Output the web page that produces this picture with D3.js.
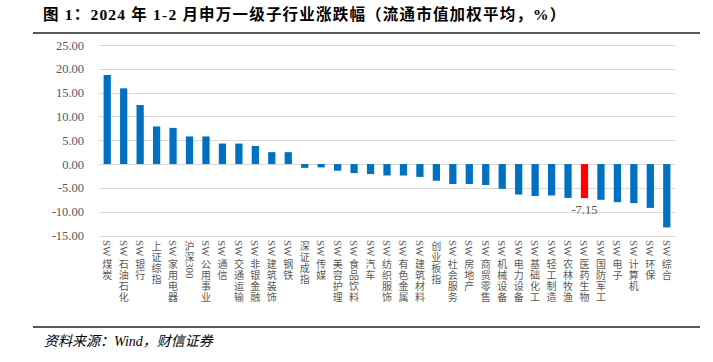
<!DOCTYPE html>
<html>
<head>
<meta charset="utf-8">
<script src="https://cdn.jsdelivr.net/npm/d3@7"></script>
<style>
  body { margin: 0; background: #fff; }
  svg { display: block; }
  .serif { font-family: "Liberation Serif", "Times New Roman", "Noto Sans CJK SC", serif; }
</style>
</head>
<body>
<div id="chart"></div>
<script>
// Industry names, in the order of the bars
const industries = [
    "SW煤炭", "SW石油石化", "SW银行", "上证综指", "SW家用电器", "沪深300", "SW公用事业",
    "SW通信", "SW交通运输", "SW非银金融", "SW建筑装饰", "SW钢铁", "深证成指", "SW传媒",
    "SW美容护理", "SW食品饮料", "SW汽车", "SW纺织服饰", "SW有色金属", "SW建筑材料", "创业板指",
    "SW社会服务", "SW房地产", "SW商贸零售", "SW机械设备", "SW电力设备", "SW基础化工", "SW轻工制造",
    "SW农林牧渔", "SW医药生物", "SW国防军工", "SW电子", "SW计算机", "SW环保", "SW综合"
];

// Change in Jan-Feb 2024 (%)
const changes = [
    18.7, 15.9, 12.4, 7.9, 7.6, 5.8, 5.8,
    4.3, 4.3, 3.8, 2.5, 2.5, -0.8, -0.7,
    -1.4, -1.9, -2.1, -2.4, -2.4, -2.7, -3.5,
    -4.2, -4.2, -4.4, -5.2, -6.4, -6.7, -6.6,
    -7.1, -7.15, -7.5, -8.0, -8.2, -9.2, -13.3
];

// Highlighted bar and its label
const highlighted = "SW医药生物";

// Y axis ticks
const yTicks = [-15, -10, -5, 0, 5, 10, 15, 20, 25];

const W = 713, H = 362;
const plot = { left: 99, right: 675, top: 45, bottom: 235.5 };

const data = industries.map((name, i) => ({ name: name, value: changes[i] }));

const svg = d3.select("#chart")
    .append("svg")
    .attr("width", W)
    .attr("height", H);

// Title
svg.append("text")
    .attr("class", "serif")
    .attr("x", 43)
    .attr("y", 20)
    .style("font-size", "15.5px")
    .style("font-weight", "bold")
    .style("letter-spacing", "1.2px")
    .style("fill", "#000")
    .text("图 1：2024 年 1-2 月申万一级子行业涨跌幅（流通市值加权平均，%）");

// Top and bottom rules
svg.append("line")
    .attr("x1", 33).attr("x2", 700)
    .attr("y1", 33).attr("y2", 33)
    .style("stroke", "#222")
    .style("stroke-width", 1.5);

svg.append("line")
    .attr("x1", 33).attr("x2", 700)
    .attr("y1", 327).attr("y2", 327)
    .style("stroke", "#222")
    .style("stroke-width", 1.5);

// Scales
const x = d3.scaleBand()
    .domain(industries)
    .range([plot.left, plot.right])
    .paddingInner(0.56)
    .paddingOuter(0.28);

const y = d3.scaleLinear()
    .domain([-15, 25])
    .range([plot.bottom, plot.top]);

// Grid lines
svg.append("g")
    .attr("class", "grid")
    .selectAll("line")
    .data(yTicks)
    .enter().append("line")
    .attr("x1", plot.left)
    .attr("x2", plot.right)
    .attr("y1", d => Math.round(y(d)) + 0.5)
    .attr("y2", d => Math.round(y(d)) + 0.5)
    .style("stroke", "#d9d9d9")
    .style("stroke-width", 1);

// Y axis labels
const yAxis = svg.append("g")
    .attr("class", "axis y-axis serif")
    .attr("transform", `translate(${plot.left - 8},0)`)
    .call(d3.axisLeft(y)
        .tickValues(yTicks)
        .tickSize(0)
        .tickPadding(7)
        .tickFormat(d => d.toFixed(2))
    );

yAxis.select(".domain").remove();
yAxis.selectAll("text")
    .style("font-family", "\"Liberation Serif\", \"Times New Roman\", serif")
    .style("font-size", "12.5px")
    .style("fill", "#595959");

// Bars
svg.selectAll(".bar")
    .data(data)
    .enter().append("rect")
    .attr("class", "bar")
    .attr("x", d => x(d.name))
    .attr("width", x.bandwidth())
    .attr("y", d => y(Math.max(0, d.value)))
    .attr("height", d => Math.abs(y(d.value) - y(0)))
    .style("fill", d => d.name === highlighted ? "#ff0000" : "#0070c0");

// Value label for the highlighted bar
const hi = data.find(d => d.name === highlighted);
svg.append("text")
    .attr("class", "serif")
    .attr("x", x(hi.name) + x.bandwidth() / 2)
    .attr("y", y(hi.value) + 16)
    .attr("text-anchor", "middle")
    .style("font-size", "12.5px")
    .style("fill", "#595959")
    .text(hi.value.toFixed(2));

// Category labels, stacked vertically: Chinese characters upright,
// Latin letters and digits turned sideways
const labelTop = 240;
const cjkStep = 11;

const labels = svg.append("g").attr("class", "x-labels");

industries.forEach(name => {
    const cx = x(name) + x.bandwidth() / 2;
    const runs = name.match(/[A-Za-z0-9]+|./g);
    let pos = labelTop;
    runs.forEach(run => {
        if (/^[A-Za-z0-9]+$/.test(run)) {
            const t = labels.append("text")
                .attr("transform", `translate(${cx},${pos}) rotate(90)`)
                .attr("dominant-baseline", "central")
                .style("font-family", "\"Liberation Serif\", \"Times New Roman\", serif")
                .style("font-size", "11px")
                .style("fill", "#595959")
                .text(run);
            pos += t.node().getComputedTextLength() + 1;
        } else {
            labels.append("text")
                .attr("x", cx)
                .attr("y", pos + cjkStep / 2)
                .attr("text-anchor", "middle")
                .attr("dominant-baseline", "central")
                .style("font-family", "\"Noto Sans CJK SC\", sans-serif")
                .style("font-size", "10px")
                .style("fill", "#595959")
                .text(run);
            pos += cjkStep;
        }
    });
});

// Source note
svg.append("text")
    .attr("x", 44)
    .attr("y", 346)
    .style("font-family", "\"Liberation Serif\", \"Noto Sans CJK SC\", serif")
    .style("font-size", "14px")
    .style("font-style", "italic")
    .style("fill", "#000")
    .text("资料来源：Wind，财信证券");
</script>
</body>
</html>
